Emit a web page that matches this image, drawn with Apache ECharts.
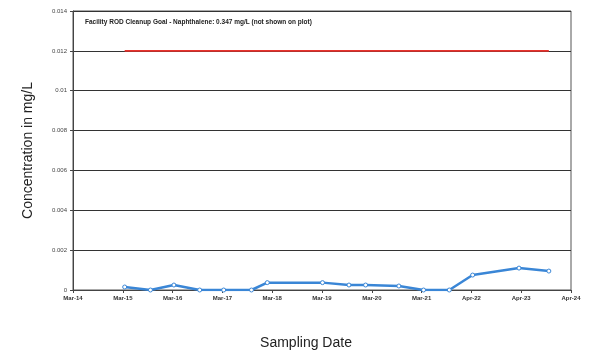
<!DOCTYPE html>
<html><head><meta charset="utf-8">
<script src="https://cdn.jsdelivr.net/npm/echarts@6/dist/echarts.min.js"></script>
<style>html,body{margin:0;padding:0;background:#fff}#c{width:591px;height:351px}</style>
</head><body><div id="c"></div>
<script>
const xTickLabels = ['Mar-14','Mar-15','Mar-16','Mar-17','Mar-18','Mar-19','Mar-20','Mar-21','Apr-22','Apr-23','Apr-24'];
const yTickLabels = ['0','0.002','0.004','0.006','0.008','0.01','0.012','0.014'];
const sampleDates = ['2015-03-15','2015-09-20','2016-03-10','2016-09-15','2017-03-10','2017-09-30','2018-01-24','2019-03-05','2019-09-15','2020-01-15','2020-09-15','2021-03-15','2021-09-20','2022-03-10','2023-02-13','2023-09-20'];
const naphthalene = [0.00015,0,0.00025,0,0,0,0.00037,0.00037,0.00025,0.00025,0.0002,0,0,0.00075,0.0011,0.00095];
const cleanupGoal = 0.012;
const noteText = 'Facility ROD Cleanup Goal - Naphthalene: 0.347 mg/L (not shown on plot)';

const origin = Date.UTC(2014,2,1);
function toYears(s){const p=s.split('-').map(Number);return (Date.UTC(p[0],p[1]-1,p[2])-origin)/(365.25*86400000);}
const xs = sampleDates.map(toYears);
const lineData = xs.map((x,i)=>[x,naphthalene[i]]);
const goalData = [[xs[0],cleanupGoal],[xs[xs.length-1],cleanupGoal]];

const chart = echarts.init(document.getElementById('c'));
chart.setOption({
  animation:false,
  grid:{left:73,right:20,top:11,bottom:61,show:true,borderColor:'#555',borderWidth:1,containLabel:false,outerBoundsMode:'none'},
  title:{text:noteText,left:80,top:14,textStyle:{fontSize:6.5,fontWeight:'bold',color:'#222',fontFamily:'Liberation Sans'}},
  xAxis:{type:'value',min:0,max:10,interval:1,
    name:'Sampling Date',nameLocation:'middle',nameGap:46,
    nameTextStyle:{fontSize:14,color:'#222',fontFamily:'Liberation Sans',padding:[0,32,0,0]},
    axisLine:{lineStyle:{color:'#444',width:1}},
    axisTick:{show:true,inside:false,length:3,lineStyle:{color:'#444'}},
    splitLine:{show:false},
    axisLabel:{fontSize:6,color:'#333',fontWeight:'bold',margin:5,fontFamily:'Liberation Sans',formatter:v=>xTickLabels[Math.round(v)]||''}},
  yAxis:{type:'value',min:0,max:0.014,interval:0.002,
    name:'Concentration in mg/L',nameLocation:'middle',nameGap:38,
    nameTextStyle:{fontSize:14,color:'#222',fontFamily:'Liberation Sans'},
    axisLine:{show:true,lineStyle:{color:'#444',width:1}},
    axisTick:{show:true,length:3,lineStyle:{color:'#444'}},
    splitLine:{show:true,lineStyle:{color:'#333',width:1}},
    axisLabel:{fontSize:6,color:'#444',margin:6,fontFamily:'Liberation Sans',formatter:v=>yTickLabels[Math.round(v/0.002)]}},
  series:[
    {type:'line',data:goalData,symbol:'none',lineStyle:{color:'#e8322c',width:1.8},z:3},
    {type:'line',data:lineData,symbol:'circle',symbolSize:4,
      itemStyle:{color:'#fff',borderColor:'#3a86d6',borderWidth:1},
      lineStyle:{color:'#3a86d6',width:2.5},z:4}
  ]
});
</script></body></html>
